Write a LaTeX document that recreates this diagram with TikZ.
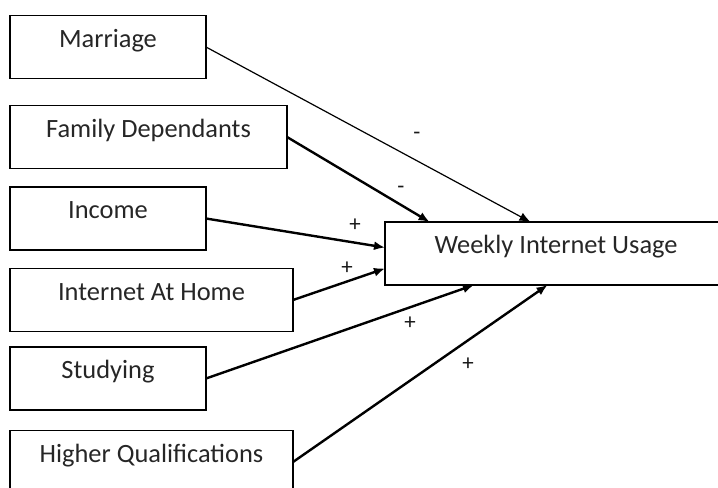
\documentclass[tikz,border=0pt]{standalone}
\usepackage{fontspec}
\setmainfont{Carlito}
\usepackage{tikz}
\usetikzlibrary{arrows.meta,shapes}

\tikzset{
  var/.style={draw,rectangle,line width=1.2bp,inner sep=0pt,outer sep=0pt,
    text height=31.5bp,text depth=31.5bp,text=black!85,
    font=\fontsize{26.5}{30}\selectfont},
  sign/.style={inner sep=0pt,text=black!90,font=\fontsize{23}{26}\selectfont},
  link/.style={-{Latex[length=11bp,width=9bp]},line width=2.4bp}
}

\begin{document}
\begin{tikzpicture}

\path[use as bounding box,clip] (0bp,0bp) rectangle (718bp,-488bp);

\node (Mar) at (108bp,-47bp)[var,minimum width=196bp] {Marriage};
\node (Fam) at (148.5bp,-137bp)[var,minimum width=277bp] {Family Dependants};
\node (Inc) at (108bp,-218.5bp)[var,minimum width=196bp] {Income};
\node (Home) at (151.5bp,-300bp)[var,minimum width=283bp] {Internet At Home};
\node (Stud) at (108bp,-378.5bp)[var,minimum width=196bp] {Studying};
\node (Qual) at (151.5bp,-462bp)[var,minimum width=283bp] {Higher Qualifications};
\node (Use) at (556bp,-253.5bp)[var,minimum width=342bp] {Weekly Internet Usage};

\draw [link,line width=1.2bp] (Mar.east) -- (Use.129.5);
\draw [link] (Fam.east) -- (Use.166.5);
\draw [link] (Inc.east) -- (Use.178.2);
\draw [link] (Home.east) -- (Use.185.5);
\draw [link] (Stud.east) -- (Use.201.2);
\draw [link] (Qual.east) -- (Use.255.7);

\node (sMar) at (417bp,-136bp)[sign] {-};
\node (sFam) at (401bp,-190bp)[sign] {-};
\node (sInc) at (355bp,-225bp)[sign] {+};
\node (sHome) at (347bp,-268bp)[sign] {+};
\node (sStud) at (410bp,-323bp)[sign] {+};
\node (sQual) at (468bp,-364bp)[sign] {+};
\end{tikzpicture}
\end{document}
